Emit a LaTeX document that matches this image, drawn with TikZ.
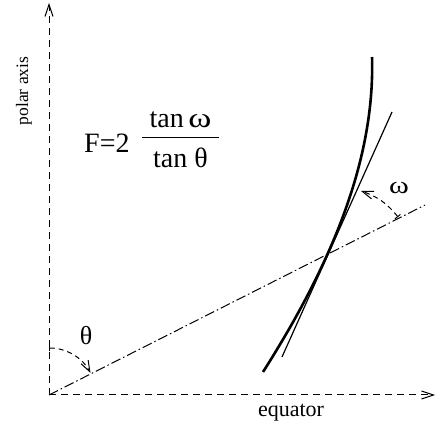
\documentclass[tikz,border=0pt]{standalone}
\usepackage{fontspec}
\setmainfont{Liberation Serif}
\usetikzlibrary{arrows.meta}
\newcommand{\wideomega}{\scalebox{1.25}[1]{ω}}
\begin{document}
\begin{tikzpicture}[x=1pt,y=1pt,
  axis/.style={line width=1pt, dash pattern=on 7pt off 5pt, -{Straight Barb[length=12pt,width=8pt]}},
  dashdot/.style={line width=1pt, dash pattern=on 10pt off 3pt on 1.5pt off 3pt},
  anglearc/.style={line width=1pt, dash pattern=on 5pt off 4pt, {Bar[width=7pt]}-{Straight Barb[length=11pt,width=8pt]}},
  curveline/.style={line width=2.6pt},
  tangentline/.style={line width=1.2pt},
  lbl/.style={inner sep=0pt}]
\useasboundingbox (0,0) rectangle (436,428);
\coordinate (O) at (49,33);
\coordinate (N) at (49,425);
\coordinate (E) at (435,33);
\coordinate (D) at (425,223);
\coordinate (Ta) at (282,71);
\coordinate (Tb) at (392,316);
\coordinate (Ws) at (398,211);
\coordinate (We) at (361,237);
% axes
\draw[axis] (O) -- (N);
\draw[axis] (O) -- (E);
\draw[dashdot] (O) -- (D);
% curve and tangent
\draw[curveline] plot[domain=-1.19:1.96, samples=80, smooth] ({328+44.5*\x-9.54*\x*\x-0.871*\x*\x*\x}, {175+100*\x});
\draw[tangentline] (Ta) -- (Tb);
% angle arcs
\draw[anglearc] (49,80) arc[start angle=90, end angle=28, radius=47];
\draw[anglearc] (Ws) to[bend right=16] (We);
% labels
\node[lbl, rotate=90, font=\fontsize{17.5}{20}\selectfont] (polar) at (24,337) {polar axis};
\node[lbl, font=\fontsize{22}{24}\selectfont] (equator) at (291,15) {equator};
\node[lbl, font=\fontsize{26}{28}\selectfont] (theta) at (86,92) {θ};
\node[lbl, font=\fontsize{24}{26}\selectfont] (omega) at (399,240) {\wideomega};
\node[lbl, anchor=base west, font=\fontsize{28}{30}\selectfont] (F) at (84,275) {F=2};
\node[lbl, anchor=base, font=\fontsize{28}{30}\selectfont] (num) at (180.5,300) {tan\,\wideomega};
\node[lbl, anchor=base, font=\fontsize{28}{30}\selectfont] (den) at (180.5,260) {tan θ};
\draw[line width=1pt] (142,290) -- (219,290);
\end{tikzpicture}
\end{document}
